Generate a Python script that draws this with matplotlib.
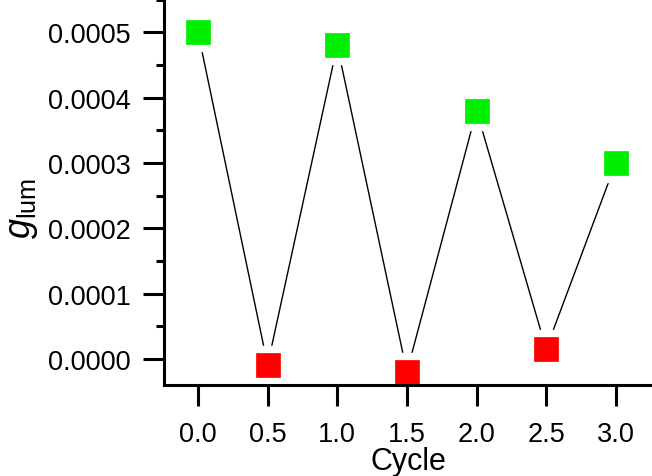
import matplotlib
matplotlib.use("Agg")
import matplotlib.pyplot as plt
from matplotlib.ticker import MultipleLocator, FormatStrFormatter

plt.rcParams['font.family'] = ['Liberation Sans', 'DejaVu Sans']
plt.rcParams['mathtext.fontset'] = 'custom'
plt.rcParams['mathtext.rm'] = 'Liberation Sans'
plt.rcParams['mathtext.it'] = 'Liberation Sans:italic'

cycle = [0.0, 0.5, 1.0, 1.5, 2.0, 2.5, 3.0]
glum = [0.0005, -0.0000092, 0.00048, -0.00002, 0.00038, 0.000015, 0.0003]
colors = ['#00ee00', '#ff0000', '#00ee00', '#ff0000', '#00ee00', '#ff0000', '#00ee00']

fig = plt.figure(figsize=(6.52, 4.77), dpi=100)
ax = fig.add_axes([164/652, 1 - 386/477, 1 - 164/652, 386/477])

ax.plot(cycle, glum, color='black', lw=1.0, zorder=1)
for x, y, c in zip(cycle, glum, colors):
    ax.plot([x], [y], marker='s', ms=27.5, color='white', mec='white', ls='none', zorder=2)
    ax.plot([x], [y], marker='s', ms=17.3, color=c, mec=c, mew=0.5, ls='none', zorder=3)

ax.set_xlim(-0.244, 3.26)
ax.set_ylim(-0.00004, 0.000551)

ax.spines['top'].set_visible(False)
ax.spines['right'].set_visible(False)
for s in ['left', 'bottom']:
    ax.spines[s].set_linewidth(2.2)
    ax.spines[s].set_zorder(5)

ax.xaxis.set_major_locator(MultipleLocator(0.5))
ax.xaxis.set_major_formatter(FormatStrFormatter('%.1f'))
ax.yaxis.set_major_locator(MultipleLocator(0.0001))
ax.yaxis.set_minor_locator(MultipleLocator(0.00005))
ax.yaxis.set_major_formatter(FormatStrFormatter('%.4f'))

ax.tick_params(axis='both', which='major', direction='out', length=15, width=2.2, labelsize=19.5)
ax.tick_params(axis='y', which='major', pad=9)
ax.tick_params(axis='x', which='major', pad=11)
ax.tick_params(axis='y', which='minor', direction='out', length=5.5, width=2.2)

ax.set_xlabel('Cycle', fontsize=22, labelpad=-1)
ax.set_ylabel(r'$g_{\mathrm{lum}}$', fontsize=26)
ax.yaxis.set_label_coords(-0.255, 0.46)

fig.savefig('out.png', dpi=100)
